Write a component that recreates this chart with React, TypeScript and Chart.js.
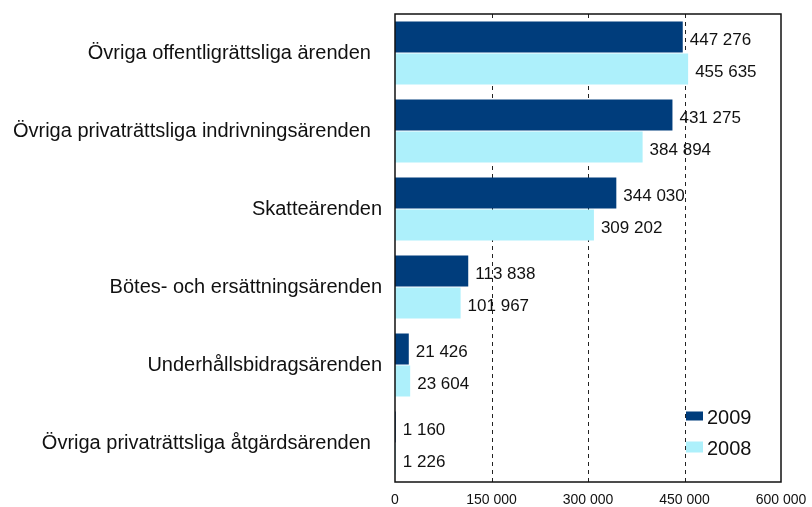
import React, { useEffect, useRef } from "react";
import { Chart, registerables } from "chart.js";

Chart.register(...registerables);

const categories = [
  "Övriga offentligrättsliga ärenden  ",
  "Övriga privaträttsliga indrivningsärenden  ",
  "Skatteärenden",
  "Bötes- och ersättningsärenden",
  "Underhållsbidragsärenden",
  "Övriga privaträttsliga åtgärdsärenden  ",
];
const values2009 = [447276, 431275, 344030, 113838, 21426, 1160];
const values2008 = [455635, 384894, 309202, 101967, 23604, 1226];
const seriesLabels = ["2009", "2008"];
const xTicks = [0, 150000, 300000, 450000, 600000];

const COLOR_2009 = "#003d7c";
const COLOR_2008 = "#adf0fb";
const FONT = "'Liberation Sans', Arial, sans-serif";

const fmt = (v: number) =>
  String(Math.round(v)).replace(/\B(?=(\d{3})+(?!\d))/g, " ");

export default function App() {
  const ref = useRef<HTMLCanvasElement | null>(null);

  useEffect(() => {
    if (!ref.current) return;
    const decor = {
      id: "decor",
      beforeDatasetsDraw(chart: any) {
        const { ctx, chartArea } = chart;
        const xs = chart.scales.x;
        ctx.save();
        ctx.strokeStyle = "#222";
        ctx.lineWidth = 1;
        ctx.setLineDash([4, 4]);
        xTicks.forEach((t) => {
          if (t === xTicks[0] || t === xTicks[xTicks.length - 1]) return;
          const x = Math.round(xs.getPixelForValue(t)) + 0.5;
          ctx.beginPath();
          ctx.moveTo(x, chartArea.top);
          ctx.lineTo(x, chartArea.bottom);
          ctx.stroke();
        });
        ctx.restore();
      },
      afterDatasetsDraw(chart: any) {
        const { ctx, chartArea } = chart;
        ctx.save();
        // value labels
        ctx.font = `17px ${FONT}`;
        ctx.fillStyle = "#111";
        ctx.textAlign = "left";
        ctx.textBaseline = "middle";
        chart.data.datasets.forEach((ds: any, di: number) => {
          const meta = chart.getDatasetMeta(di);
          meta.data.forEach((bar: any, i: number) => {
            ctx.fillText(fmt(ds.data[i]), bar.x + 7, bar.y + 3);
          });
        });
        // border
        ctx.strokeStyle = "#111";
        ctx.lineWidth = 1.5;
        ctx.setLineDash([]);
        ctx.strokeRect(
          chartArea.left,
          chartArea.top,
          chartArea.right - chartArea.left,
          chartArea.bottom - chartArea.top
        );
        // legend
        const bx = chartArea.right - 95;
        const tx = chartArea.right - 74;
        const ys = [chartArea.bottom - 65, chartArea.bottom - 34];
        const cols = [COLOR_2009, COLOR_2008];
        const hs = [9, 11];
        ctx.font = `20px ${FONT}`;
        seriesLabels.forEach((lab, i) => {
          ctx.fillStyle = cols[i];
          ctx.fillRect(bx, ys[i] - hs[i] / 2 - 1, 17, hs[i]);
          ctx.fillStyle = "#111";
          ctx.fillText(lab, tx, ys[i] + 1);
        });
        ctx.restore();
      },
    };

    const chart = new Chart(ref.current, {
      type: "bar",
      data: {
        labels: categories,
        datasets: [
          {
            label: seriesLabels[0],
            data: values2009,
            backgroundColor: COLOR_2009,
            categoryPercentage: 0.82,
            barPercentage: 0.97,
          },
          {
            label: seriesLabels[1],
            data: values2008,
            backgroundColor: COLOR_2008,
            categoryPercentage: 0.82,
            barPercentage: 0.97,
          },
        ],
      },
      options: {
        indexAxis: "y",
        animation: false,
        responsive: false,
        maintainAspectRatio: false,
        layout: { padding: { top: 14, right: 31, left: 0, bottom: 0 } },
        plugins: {
          legend: { display: false },
          tooltip: { enabled: false },
        },
        scales: {
          x: {
            min: 0,
            max: 600000,
            afterFit: (s: any) => {
              s.height = 25;
              s.paddingLeft = 0;
              s.paddingRight = 0;
            },
            afterBuildTicks: (s: any) => {
              s.ticks = xTicks.map((v) => ({ value: v }));
            },
            grid: { display: false, drawTicks: false },
            border: { display: false },
            ticks: {
              padding: 10,
              color: "#111",
              font: { family: FONT, size: 14 },
              callback: (v: any) => fmt(Number(v)),
              maxRotation: 0,
              autoSkip: false,
            },
          },
          y: {
            afterFit: (s: any) => {
              s.width = 395;
              s.paddingTop = 0;
              s.paddingBottom = 0;
            },
            grid: { display: false, drawTicks: false },
            border: { display: false },
            ticks: {
              padding: 13,
              color: "#111",
              font: { family: FONT, size: 20 },
              autoSkip: false,
            },
          },
        },
      },
      plugins: [decor],
    } as any);
    return () => chart.destroy();
  }, []);

  return (
    <div style={{ position: "fixed", left: 0, top: 0, width: 812, height: 507, background: "#fff" }}>
      <canvas ref={ref} width={812} height={507} style={{ display: "block" }} />
    </div>
  );
}
